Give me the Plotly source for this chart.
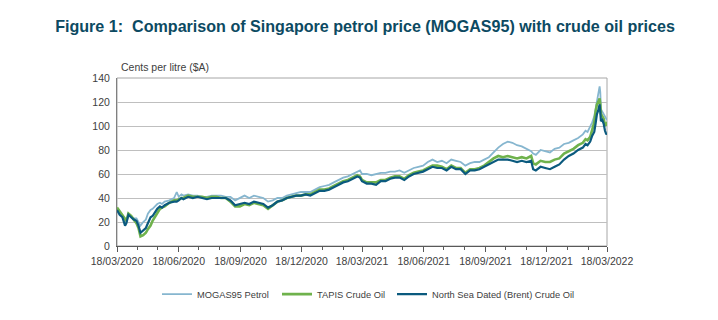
import plotly.graph_objects as go

dates = [
    "2020-03-18", "2020-03-22", "2020-03-26", "2020-03-30", "2020-04-01", "2020-04-04",
    "2020-04-08", "2020-04-12", "2020-04-16", "2020-04-19", "2020-04-22", "2020-04-26",
    "2020-04-30", "2020-05-03", "2020-05-07", "2020-05-10", "2020-05-14", "2020-05-17",
    "2020-05-21", "2020-05-24", "2020-05-28", "2020-06-04", "2020-06-11", "2020-06-15",
    "2020-06-18", "2020-06-22", "2020-06-25", "2020-07-02", "2020-07-09", "2020-07-16",
    "2020-07-23", "2020-07-30", "2020-08-06", "2020-08-13", "2020-08-20", "2020-08-27",
    "2020-09-03", "2020-09-10", "2020-09-17", "2020-09-24", "2020-10-01", "2020-10-08",
    "2020-10-15", "2020-10-22", "2020-10-29", "2020-11-05", "2020-11-12", "2020-11-19",
    "2020-11-26", "2020-12-03", "2020-12-10", "2020-12-17", "2020-12-24", "2020-12-31",
    "2021-01-07", "2021-01-14", "2021-01-21", "2021-01-28", "2021-02-04", "2021-02-11",
    "2021-02-18", "2021-02-25", "2021-03-04", "2021-03-11", "2021-03-15", "2021-03-18",
    "2021-03-25", "2021-04-01", "2021-04-08", "2021-04-15", "2021-04-22", "2021-04-29",
    "2021-05-06", "2021-05-13", "2021-05-20", "2021-05-27", "2021-06-03", "2021-06-10",
    "2021-06-17", "2021-06-24", "2021-07-01", "2021-07-08", "2021-07-15", "2021-07-22",
    "2021-07-29", "2021-08-05", "2021-08-12", "2021-08-19", "2021-08-26", "2021-09-02",
    "2021-09-09", "2021-09-16", "2021-09-23", "2021-09-30", "2021-10-07", "2021-10-14",
    "2021-10-21", "2021-10-28", "2021-11-04", "2021-11-11", "2021-11-18", "2021-11-25",
    "2021-11-28", "2021-12-02", "2021-12-09", "2021-12-16", "2021-12-23", "2021-12-30",
    "2022-01-06", "2022-01-13", "2022-01-20", "2022-01-27", "2022-02-03", "2022-02-10",
    "2022-02-14", "2022-02-17", "2022-02-21", "2022-02-24", "2022-02-27", "2022-03-01",
    "2022-03-03", "2022-03-05", "2022-03-07", "2022-03-08", "2022-03-09", "2022-03-11",
    "2022-03-13", "2022-03-15", "2022-03-17", "2022-03-18",
]

brent = [
    30, 26, 24, 17, 19, 26, 24, 22, 21, 17, 11, 13, 15, 19, 24, 25, 29, 31, 33, 32, 34,
    36, 37, 37, 38, 40, 39, 41, 40, 41, 40, 39, 40, 40, 40, 40, 38, 34, 35, 36, 35, 37,
    36, 35, 32, 34, 37, 38, 40, 41, 42, 42, 43, 42, 44, 46, 46, 47, 49, 51, 53, 54, 56,
    58, 57, 54, 52, 52, 51, 54, 54, 56, 57, 57, 55, 58, 60, 61, 62, 64, 66, 65, 65, 63,
    66, 64, 64, 60, 63, 63, 64, 66, 68, 70, 72, 72, 72, 71, 70, 71, 70, 71, 64, 63, 66,
    65, 64, 66, 68, 72, 75, 77, 80, 82, 85, 84, 87, 92, 95, 102, 110, 113, 118, 112, 104,
    105, 102, 96, 93, 94,
]

tapis = [
    32, 29, 26, 22, 21, 27, 25, 22, 19, 15, 8, 9, 11, 14, 17, 21, 25, 28, 31, 32, 33,
    36, 38, 38, 39, 40, 40, 42, 41, 41, 41, 40, 41, 41, 40, 40, 37, 33, 33, 35, 34, 36,
    35, 34, 31, 34, 37, 38, 40, 41, 42, 42, 43, 43, 45, 47, 47, 48, 50, 52, 54, 55, 57,
    59, 58, 55, 53, 53, 53, 55, 55, 57, 58, 58, 56, 59, 61, 62, 63, 65, 67, 67, 66, 64,
    67, 65, 65, 61, 64, 64, 65, 67, 70, 73, 75, 74, 75, 74, 73, 74, 73, 75, 69, 68, 71,
    70, 70, 72, 73, 77, 79, 81, 84, 86, 89, 88, 91, 97, 103, 112, 118, 120, 123, 118, 110,
    108, 106, 101, 102, 100,
]

mogas = [
    31, 28, 25, 20, 21, 27, 25, 23, 23, 20, 17, 20, 22, 27, 30, 31, 33, 35, 36, 35, 37,
    38, 40, 45, 41, 43, 42, 43, 42, 42, 41, 41, 42, 42, 42, 41, 41, 38, 40, 42, 40, 42,
    41, 40, 37, 38, 40, 40, 42, 43, 44, 45, 45, 45, 47, 49, 50, 51, 53, 55, 57, 58, 60,
    62, 63, 60, 60, 59, 60, 61, 61, 62, 62, 63, 61, 63, 65, 66, 67, 70, 72, 70, 71, 69,
    72, 71, 70, 67, 69, 70, 70, 72, 74, 78, 82, 85, 87, 86, 84, 83, 81, 79, 77, 76, 80,
    79, 78, 81, 82, 85, 86, 88, 90, 93, 96, 95, 99, 103, 108, 115, 122, 126, 133, 128, 114,
    112, 110, 107, 106, 105,
]

major_ticks = ["2020-03-18", "2020-06-18", "2020-09-18", "2020-12-18", "2021-03-18",
               "2021-06-18", "2021-09-18", "2021-12-18", "2022-03-18"]
major_labels = ["18/03/2020", "18/06/2020", "18/09/2020", "18/12/2020", "18/03/2021",
                "18/06/2021", "18/09/2021", "18/12/2021", "18/03/2022"]
minor_ticks = ["2020-04-18", "2020-05-18", "2020-07-18", "2020-08-18", "2020-10-18",
               "2020-11-18", "2021-01-18", "2021-02-18", "2021-04-18", "2021-05-18",
               "2021-07-18", "2021-08-18", "2021-10-18", "2021-11-18", "2022-01-18",
               "2022-02-18"]

FONT = "Liberation Sans, Arial, sans-serif"
TXT = "#404040"

fig = go.Figure()
fig.add_trace(go.Scatter(x=dates, y=mogas, mode="lines", name="MOGAS95 Petrol",
                         line=dict(color="#86b6cf", width=1.8), legend="legend"))
fig.add_trace(go.Scatter(x=dates, y=tapis, mode="lines", name="TAPIS Crude Oil",
                         line=dict(color="#6fb24c", width=2.6), legend="legend2"))
fig.add_trace(go.Scatter(x=dates, y=brent, mode="lines",
                         name="North Sea Dated (Brent) Crude Oil",
                         line=dict(color="#0b5a7e", width=2.2), legend="legend3"))


def leg(px):
    return dict(orientation="h", x=(px - 117) / 490, xanchor="left",
                y=-(298 - 249) / 171, yanchor="middle",
                font=dict(size=9.3, color=TXT, family=FONT),
                itemwidth=30, bgcolor="rgba(0,0,0,0)")


fig.update_layout(
    width=718, height=320,
    margin=dict(l=117, r=111, t=78, b=71),
    paper_bgcolor="white", plot_bgcolor="white",
    font=dict(family=FONT, color=TXT, size=11),
    title=dict(text="<b>Figure 1:&nbsp; Comparison of Singapore petrol price (MOGAS95) with crude oil prices</b>",
               x=365 / 718, xanchor="center", y=1 - 26 / 320, yanchor="middle",
               font=dict(family=FONT, size=16.1, color="#0c4a62")),
    showlegend=True,
    legend=leg(157), legend2=leg(277), legend3=leg(392),
    shapes=[dict(type="rect", xref="paper", yref="paper", x0=0, x1=1, y0=0, y1=1,
                 line=dict(color="#a6a6a6", width=1), layer="below")],
    annotations=[dict(text="Cents per litre ($A)", xref="paper", yref="paper",
                      x=(119 - 117) / 490, y=1 + (78 - 67) / 171, xanchor="left",
                      yanchor="middle", showarrow=False,
                      font=dict(size=10.5, color=TXT, family=FONT))],
)

fig.update_xaxes(
    type="date", range=["2020-03-18", "2022-03-18"],
    tickmode="array", tickvals=major_ticks, ticktext=major_labels,
    ticks="outside", ticklen=5, tickcolor="#595959", tickwidth=1,
    showgrid=False, showline=True, linecolor="#595959", linewidth=1,
    tickfont=dict(size=10.5, color=TXT, family=FONT),
    minor=dict(tickmode="array", tickvals=minor_ticks, ticks="outside", ticklen=3,
               tickcolor="#595959", showgrid=False),
    zeroline=False,
)
fig.update_yaxes(
    range=[0, 140], tickmode="linear", tick0=0, dtick=20,
    showgrid=True, gridcolor="#bfbfbf", gridwidth=1,
    showline=True, linecolor="#808080", linewidth=1,
    ticks="", tickfont=dict(size=10.5, color=TXT, family=FONT),
    zeroline=False, ticklabelstandoff=4,
)

fig.write_html("out.html")
